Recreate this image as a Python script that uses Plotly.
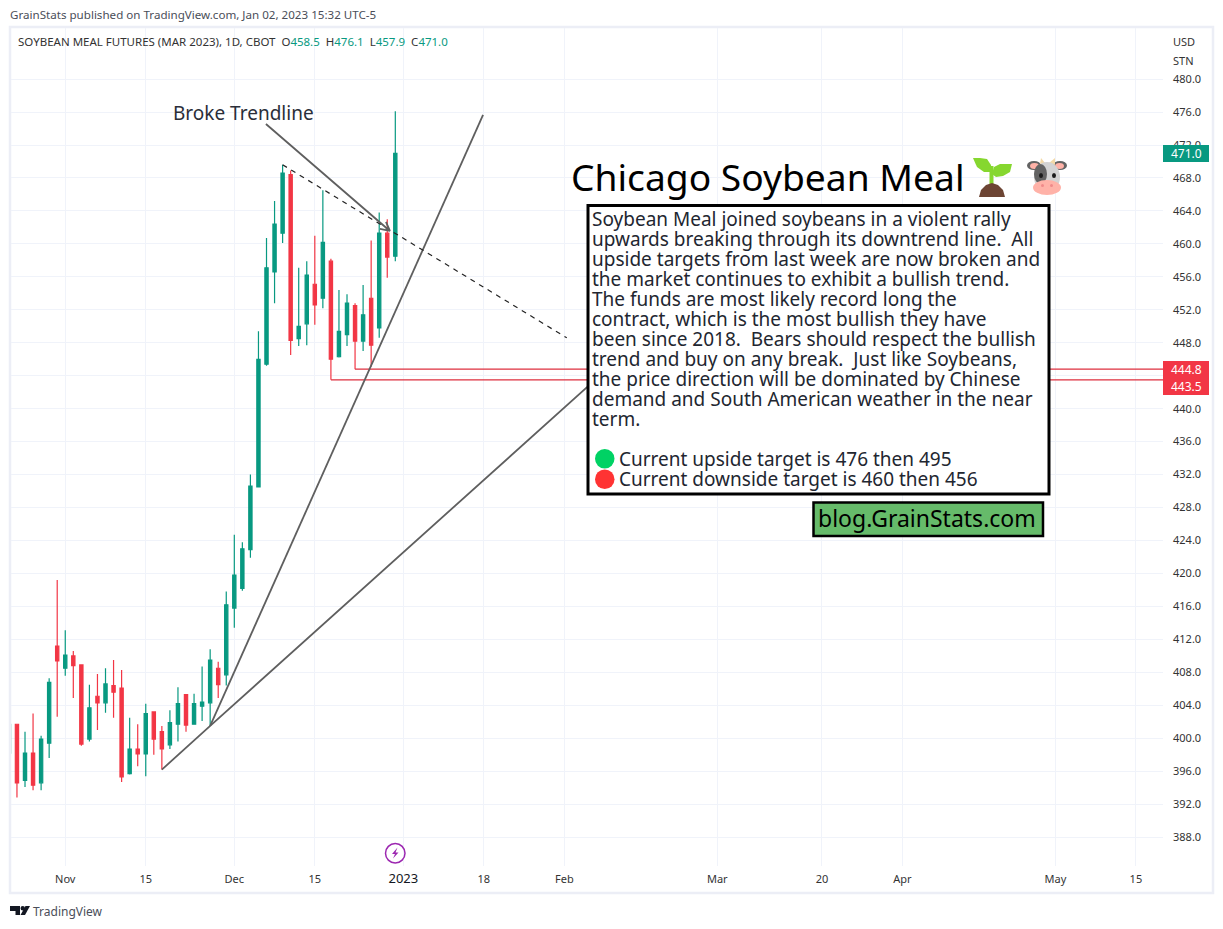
import plotly.graph_objects as go

# daily bars, Oct 21 2022 -> Dec 30 2022
dates = ["Oct 21", "Oct 24", "Oct 25", "Oct 26", "Oct 27", "Oct 28", "Oct 31",
         "Nov 1", "Nov 2", "Nov 3", "Nov 4", "Nov 7", "Nov 8", "Nov 9", "Nov 10", "Nov 11",
         "Nov 14", "Nov 15", "Nov 16", "Nov 17", "Nov 18", "Nov 21", "Nov 22", "Nov 23", "Nov 25",
         "Nov 28", "Nov 29", "Nov 30", "Dec 1", "Dec 2", "Dec 5", "Dec 6", "Dec 7", "Dec 8", "Dec 9",
         "Dec 12", "Dec 13", "Dec 14", "Dec 15", "Dec 16", "Dec 19", "Dec 20", "Dec 21", "Dec 22",
         "Dec 23", "Dec 27", "Dec 28", "Dec 29", "Dec 30"]
opens = [398.2, 401.7, 394.9, 398.2, 394.6, 399.4, 411.2, 408.5, 410.0, 408.9, 399.9, 405.1, 404.3,
         406.4, 406.1, 395.7, 398.7, 398.1, 403.2, 400.8, 399.2, 401.7, 405.3, 401.7, 403.9, 404.3,
         408.5, 407.7, 415.8, 418.2, 422.9, 430.5, 445.4, 456.6, 461.3, 468.4, 448.5, 450.3, 455.1,
         453.4, 457.9, 446.3, 449.0, 452.5, 448.2, 453.4, 449.8, 461.3, 458.5]
highs = [401.7, 401.7, 400.8, 403.0, 400.3, 407.3, 419.2, 413.1, 410.6, 408.9, 406.5, 407.8, 408.5,
         409.5, 408.3, 402.5, 401.7, 404.2, 403.2, 401.5, 403.4, 406.2, 405.3, 405.4, 408.7, 410.8,
         409.3, 417.8, 424.7, 423.8, 432.0, 449.4, 460.7, 465.2, 469.6, 468.9, 457.1, 457.9, 461.0,
         466.5, 458.2, 454.4, 453.9, 452.8, 455.0, 460.4, 463.8, 463.0, 476.1]
lows = [398.2, 392.8, 394.1, 393.7, 393.7, 397.6, 402.6, 407.6, 404.9, 399.1, 399.6, 401.0, 403.1,
        402.5, 394.7, 395.6, 396.6, 395.4, 398.0, 396.2, 398.7, 399.6, 400.8, 401.7, 402.1, 401.5,
        404.9, 406.4, 413.4, 417.9, 421.9, 430.5, 445.2, 452.8, 460.1, 446.5, 447.6, 447.7, 450.2,
        452.2, 443.5, 446.2, 447.6, 444.8, 447.0, 445.1, 448.6, 455.9, 457.9]
closes = [401.7, 394.6, 398.2, 394.3, 399.9, 406.8, 409.4, 410.1, 408.8, 399.3, 403.7, 404.3, 406.6,
          405.6, 395.3, 398.7, 398.1, 403.0, 399.9, 398.7, 401.9, 404.2, 401.6, 404.2, 404.4, 409.5,
          406.5, 416.2, 419.8, 423.0, 430.6, 446.0, 457.1, 462.4, 468.6, 448.3, 450.0, 456.2, 452.6,
          460.2, 446.0, 449.4, 452.8, 448.2, 451.4, 447.7, 461.3, 458.4, 471.0]

# time axis, in bar numbers (the exchange calendar carries on past the last bar)
time_ticks = [7, 17, 28, 38, 49, 59, 69, 88, 101, 111, 130, 140]
time_labels = ["Nov", "15", "Dec", "15", "<span style='color:#131722;font-size:13px'>2023</span>",
               "18", "Feb", "Mar", "20", "Apr", "May", "15"]
price_ticks = list(range(388, 484, 4))
# 444.0 sits under the red price badge
price_labels = ["" if p == 444 else f"{p:.1f}" for p in price_ticks]

# drawings: bar number, price
fan_low_x = [19, 25, 75]
fan_low_y = [396.2, 401.5, 445.4]
fan_high_x = [25, 58.9]
fan_high_y = [401.5, 475.65]
downtrend_x = [34, 69.3]
downtrend_y = [469.6, 448.6]
arrow_x = [31.93, 47.33, 46.09, 47.33, 46.84]
arrow_y = [474.55, 461.57, 461.81, 461.57, 462.66]
ray_levels = [444.8, 443.5]
ray_starts = [43, 40]

note_lines = [
    "Soybean Meal joined soybeans in a violent rally",
    "upwards breaking through its downtrend line.  All",
    "upside targets from last week are now broken and",
    "the market continues to exhibit a bullish trend.",
    "The funds are most likely record long the",
    "contract, which is the most bullish they have",
    "been since 2018.  Bears should respect the bullish",
    "trend and buy on any break.  Just like Soybeans,",
    "the price direction will be dominated by Chinese",
    "demand and South American weather in the near",
    "term.",
]

UP = "#089981"
DOWN = "#f23645"
INK = "#131722"
GRID = "#f0f3fa"
FONT = "Noto Sans"

# plot area in page pixels
L, R, T, B = 11, 1163, 28, 866


def px(x):
    return (x - L) / (R - L)


def py(y):
    return (B - y) / (B - T)


def rect(x0, y0, x1, y1, fill=None, line=None, width=0, kind="rect", layer="above"):
    return dict(type=kind, xref="paper", yref="paper", x0=px(x0), y0=py(y0), x1=px(x1), y1=py(y1),
                fillcolor=fill, line=dict(color=line, width=width), layer=layer)


def poly(points, fill=None, line=None, width=0, close=True):
    d = ""
    for i, (x, y) in enumerate(points):
        d += ("M" if i == 0 else "L") + f"{px(x):.5f},{py(y):.5f} "
    if close:
        d += "Z"
    return dict(type="path", xref="paper", yref="paper", path=d, fillcolor=fill,
                line=dict(color=line, width=width), layer="above")


def label(x, y, text, size, color=INK, anchor="left"):
    return dict(xref="paper", yref="paper", x=px(x), y=py(y), text=text, showarrow=False,
                xanchor=anchor, yanchor="middle", align=anchor,
                font=dict(family=FONT, size=size, color=color), borderpad=0, borderwidth=0)


bars = list(range(len(dates)))
fig = go.Figure()
fig.add_trace(go.Candlestick(
    x=bars, open=opens, high=highs, low=lows, close=closes, whiskerwidth=0,
    increasing=dict(line=dict(color=UP, width=1.2), fillcolor=UP),
    decreasing=dict(line=dict(color=DOWN, width=1.2), fillcolor=DOWN),
))

x_end = (R - L) / 8.05 + 0.26
for start, level in zip(ray_starts, ray_levels):
    fig.add_trace(go.Scatter(x=[start, x_end], y=[level, level], mode="lines",
                             line=dict(color="#de2f3e", width=1.2)))
for xs, ys in [(fan_low_x, fan_low_y), (fan_high_x, fan_high_y)]:
    fig.add_trace(go.Scatter(x=xs, y=ys, mode="lines", line=dict(color="#5f5f5f", width=1.8)))
fig.add_trace(go.Scatter(x=downtrend_x, y=downtrend_y, mode="lines",
                         line=dict(color="#222222", width=1.2, dash="5px,5px")))
fig.add_trace(go.Scatter(x=arrow_x, y=arrow_y, mode="lines", line=dict(color="#5f5f5f", width=1.8)))

shapes = [
    # outer frame of the chart
    rect(10, 27, 1213, 893, line="#eceef6", width=2.5, layer="below"),
    # note box, url box
    rect(588, 205.5, 1049, 494, fill="white", line="black", width=3),
    rect(813.5, 502.5, 1043, 536, fill="#66bb6a", line="black", width=2.5),
    # target dots
    rect(595, 449, 614.5, 468.5, fill="#00d264", kind="circle"),
    rect(595, 469.5, 614.5, 489, fill="#ff3333", kind="circle"),
    # price badges
    rect(1163, 145, 1209, 162, fill=UP),
    rect(1163, 361, 1209, 395, fill=DOWN),
    # event marker
    rect(385.5, 843.5, 405, 863, line="#9c27b0", width=1.5, kind="circle"),
    poly([(397.5, 847.5), (392, 854), (395, 854), (393, 858.5), (398.5, 852.5), (395.5, 852.5)], fill="#9c27b0"),
    # TradingView logo
    poly([(10, 906), (20, 906), (20, 915), (15.5, 915), (15.5, 911), (10, 911)], fill=INK),
    rect(20.5, 906, 25, 910.5, fill=INK, kind="circle"),
    poly([(25.5, 906), (30, 906), (25, 915), (20.5, 915)], fill=INK),
    # seedling
    poly([(989.5, 166), (993.5, 166), (993.5, 186), (989.5, 186)], fill="#86d72f"),
    poly([(973, 158), (980, 158), (987, 159), (991, 165), (992, 172), (984, 172), (977, 167)], fill="#86d72f"),
    poly([(992, 174), (994, 167), (1000, 164), (1012, 164), (1010, 172), (1003, 176), (996, 177)], fill="#86d72f"),
    poly([(979, 197), (981, 190), (986, 185), (992, 183), (998, 185), (1003, 190), (1005, 197)], fill="#6d4534"),
    # cow
    rect(1027, 161, 1041, 170, fill="#636363", kind="circle"),
    rect(1053, 161, 1067, 170, fill="#636363", kind="circle"),
    rect(1030, 163, 1039, 169, fill="#ffb2a8", kind="circle"),
    rect(1055, 163, 1064, 169, fill="#ffb2a8", kind="circle"),
    poly([(1040, 164), (1041, 158), (1045, 163)], fill="#f3d9a8"),
    poly([(1049, 163), (1055, 158), (1055, 165)], fill="#f3d9a8"),
    rect(1034, 162, 1060, 192, fill="#d3d3d3", kind="circle"),
    rect(1034, 164, 1047, 184, fill="#636363", kind="circle"),
    rect(1039, 173, 1043, 178, fill="#1c1c1c", kind="circle"),
    rect(1052, 173, 1056, 178, fill="#1c1c1c", kind="circle"),
    rect(1033, 180, 1061, 195, fill="#ffb2a8", kind="circle"),
    rect(1041, 184, 1044, 187, fill="#f08a8a", kind="circle"),
    rect(1050, 184, 1053, 187, fill="#f08a8a", kind="circle"),
]

annotations = [
    label(10, 15, "GrainStats published on TradingView.com, Jan 02, 2023 15:32 UTC-5", 11.6, "#4a4e59"),
    label(18, 41, "SOYBEAN MEAL FUTURES (MAR 2023), 1D, CBOT  "
                  f"O<span style='color:{UP}'>458.5</span>  H<span style='color:{UP}'>476.1</span>  "
                  f"L<span style='color:{UP}'>457.9</span>  C<span style='color:{UP}'>471.0</span>", 11.5, "#333333"),
    label(1173, 41, "USD", 11, "#333333"),
    label(1173, 60, "STN", 11, "#333333"),
    label(173, 113, "Broke Trendline", 19, "#2a2e39"),
    label(571, 176, "Chicago Soybean Meal", 37.2, "black"),
    label(1186, 153.5, "471.0", 12, "white", "center"),
    label(1186, 369.5, "444.8", 12, "white", "center"),
    label(1186, 386.5, "443.5", 12, "white", "center"),
    label(619, 459, "Current upside target is 476 then 495", 19, "#222630"),
    label(619, 479, "Current downside target is 460 then 456", 19, "#222630"),
    label(818, 518, "blog.GrainStats.com", 23, "black"),
    label(33, 911, "TradingView", 12, "#4a4e59"),
]
for n, line in enumerate(note_lines):
    annotations.append(label(592, 219 + 20 * n, line, 19, "#222630"))

fig.update_layout(
    width=1223, height=929, boxgap=0.42,
    margin=dict(l=L, r=1223 - R, t=T, b=929 - B, autoexpand=False),
    paper_bgcolor="white", plot_bgcolor="white",
    showlegend=False, shapes=shapes, annotations=annotations,
    font=dict(family=FONT, size=11, color="#333333"),
)
fig.update_xaxes(
    range=[0.26, x_end], rangeslider_visible=False, tickmode="array",
    tickvals=time_ticks, ticktext=time_labels, showgrid=True, gridcolor=GRID, gridwidth=1,
    ticks="", zeroline=False, showline=False, ticklabelstandoff=5,
)
fig.update_yaxes(
    range=[384.5, 486.2], side="right", tickmode="array", tickvals=price_ticks,
    ticktext=price_labels, showgrid=True, gridcolor=GRID, gridwidth=1,
    ticks="", zeroline=False, showline=False, ticklabelstandoff=9,
)

fig.write_html("out.html", config={"displayModeBar": False},
               post_script="document.body.style.margin='0';")
